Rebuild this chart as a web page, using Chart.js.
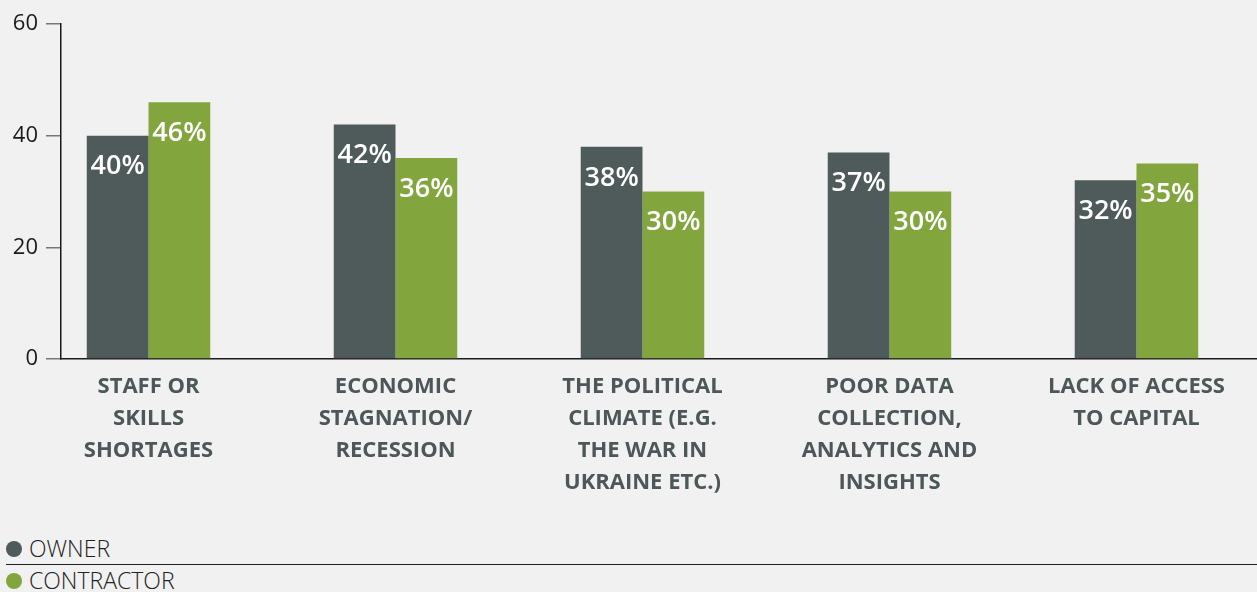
<!DOCTYPE html>
<html>
<head>
<meta charset="utf-8">
<script src="https://cdn.jsdelivr.net/npm/chart.js@4.4.1/dist/chart.umd.min.js"></script>
<style>
  body { margin: 0; background: #f0f1f0; width: 1257px; height: 592px; overflow: hidden; position: relative; font-family: 'Open Sans', sans-serif; }
  .chartBox { position: absolute; left: 0; top: 0; width: 1257px; height: 520px; }
  .legend { position: absolute; left: 0; top: 533px; width: 1257px; }
  .legendItem { position: relative; height: 31px; line-height: 31px; font-size: 23px; font-weight: 300; color: #222; padding-left: 29px; }
  .legendItem .dot { position: absolute; left: 6px; top: 8px; width: 16px; height: 16px; border-radius: 50%; }
  .legendItem + .legendItem { border-top: 1px solid #222; margin-left: 6px; padding-left: 23px; }
  .legendItem + .legendItem .dot { left: 0; }
</style>
</head>
<body>
<div class="chartBox"><canvas id="canvas" width="1257" height="520"></canvas></div>
<div class="legend" id="legend"></div>
<script>
const categories = [
    ['STAFF OR', 'SKILLS', 'SHORTAGES'],
    ['ECONOMIC', 'STAGNATION/', 'RECESSION'],
    ['THE POLITICAL', 'CLIMATE (E.G.', 'THE WAR IN', 'UKRAINE ETC.)'],
    ['POOR DATA', 'COLLECTION,', 'ANALYTICS AND', 'INSIGHTS'],
    ['LACK OF ACCESS', 'TO CAPITAL']
]
const owner = [40, 42, 38, 37, 32]
const contractor = [46, 36, 30, 30, 35]
const yTicks = [0, 20, 40, 60]

const ownerColor = '#4f5a5a'
const contractorColor = '#82a53e'

const toPoints = values => values.map((v, i) => ({ x: i, y: v }))

// white percentage labels near the top of each bar
const barLabels = {
    id: 'barLabels',
    afterDatasetsDraw(chart) {
        const ctx = chart.ctx
        ctx.save()
        ctx.fillStyle = '#ffffff'
        ctx.font = '600 27px "Open Sans"'
        ctx.textAlign = 'center'
        ctx.textBaseline = 'middle'
        chart.data.datasets.forEach((ds, di) => {
            chart.getDatasetMeta(di).data.forEach((bar, i) => {
                ctx.fillText(ds.data[i].y + '%', bar.x, bar.y + 31)
            })
        })
        ctx.restore()
    }
}

const ctx = document.querySelector('#canvas').getContext('2d')
const myChart = new Chart(ctx, {
    type: 'bar',
    data: {
        datasets: [{
            label: 'OWNER',
            data: toPoints(owner),
            backgroundColor: ownerColor
        }, {
            label: 'CONTRACTOR',
            data: toPoints(contractor),
            backgroundColor: contractorColor
        }]
    },
    options: {
        responsive: false,
        animation: false,
        events: [],
        barPercentage: 1,
        categoryPercentage: 0.5,
        layout: { padding: { top: 24, right: 0, bottom: 0, left: 0 } },
        plugins: {
            legend: { display: false },
            tooltip: { enabled: false }
        },
        scales: {
            x: {
                type: 'linear',
                offset: false,
                min: -0.3543,
                max: 4.488,
                afterBuildTicks: scale => {
                    scale.ticks = categories.map((c, i) => ({ value: i }))
                },
                afterFit: scale => {
                    scale.height = 520 - 359
                },
                grid: { display: false },
                border: { display: true, color: '#1a1a1a', width: 1.5 },
                ticks: {
                    autoSkip: false,
                    maxRotation: 0,
                    padding: 4,
                    color: '#4d5658',
                    font: { family: 'Open Sans', size: 22, weight: '700', lineHeight: 1.4545 },
                    callback: (value, index) => categories[index]
                }
            },
            y: {
                min: 0,
                max: 60,
                afterBuildTicks: scale => {
                    scale.ticks = yTicks.map(v => ({ value: v }))
                },
                afterFit: scale => {
                    scale.width = 61
                },
                grid: {
                    display: true,
                    drawOnChartArea: false,
                    drawTicks: true,
                    tickLength: 15,
                    tickColor: '#777',
                    lineWidth: 1.5
                },
                border: { display: true, color: '#1a1a1a', width: 1.5 },
                ticks: {
                    padding: 8,
                    color: '#1a1a1a',
                    font: { family: 'Open Sans', size: 22 }
                }
            }
        }
    },
    plugins: [barLabels]
})

// legend rows built from the datasets
const legend = document.querySelector('#legend')
myChart.data.datasets.forEach(ds => {
    const row = document.createElement('div')
    row.className = 'legendItem'
    row.innerHTML = `<span class="dot" style="background:${ds.backgroundColor}"></span>${ds.label}`
    legend.appendChild(row)
})
</script>
</body>
</html>
